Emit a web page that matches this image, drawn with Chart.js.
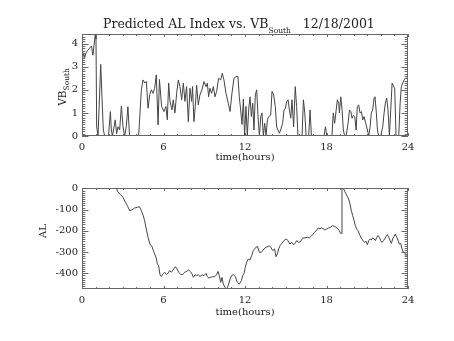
<!DOCTYPE html>
<html>
<head>
<meta charset="utf-8">
<script src="https://cdn.jsdelivr.net/npm/chart.js@4.4.1/dist/chart.umd.min.js"></script>
<style>
  body { margin: 0; background: #fff; width: 454px; height: 341px; position: relative; overflow: hidden; }
  .box { position: absolute; left: 0; width: 454px; }
  .lbl { position: absolute; font-family: "DejaVu Serif", serif; color: #222; white-space: pre; line-height: 1; }
  .sub { font-size: 7.5px; position: relative; top: 5px; }
  .rsub { font-size: 7.5px; position: relative; top: 3px; }
  .rot { transform: translate(-50%, -50%) rotate(-90deg); }
  .ctr { transform: translateX(-50%); }
</style>
</head>
<body>
<div class="box" style="top:0;height:170px"><canvas id="vbChart"></canvas></div>
<div class="box" style="top:170px;height:171px"><canvas id="alChart"></canvas></div>

<div class="lbl" style="left:103px;top:18px;font-size:12.5px">Predicted AL Index vs. VB<span class="sub">South</span>   12/18/2001</div>
<div class="lbl rot" style="left:62px;top:87px;font-size:10.5px">VB<span class="rsub">South</span></div>
<div class="lbl ctr" style="left:245px;top:152px;font-size:10px">time(hours)</div>
<div class="lbl rot" style="left:43px;top:231px;font-size:10px">AL</div>
<div class="lbl ctr" style="left:245px;top:307px;font-size:10px">time(hours)</div>

<script>
// VB south (top panel), hours / value
const vbHours = [
  0.00, 0.12, 0.20, 0.30, 0.40, 0.55, 0.70, 0.80, 0.98, 1.03, 1.08, 1.18, 1.38, 1.47, 1.57, 1.67,
  1.95, 2.09, 2.16, 2.24, 2.45, 2.55, 2.65, 2.77, 2.90, 3.02, 3.14, 3.26, 3.38, 3.50, 4.17, 4.37,
  4.49, 4.62, 4.74, 4.86, 4.99, 5.11, 5.23, 5.35, 5.47, 5.60, 5.70, 5.86, 6.03, 6.18, 6.28, 6.38,
  6.48, 6.62, 6.72, 6.84, 6.97, 7.09, 7.21, 7.34, 7.46, 7.58, 7.70, 7.83, 7.95, 8.07, 8.14, 8.24,
  8.34, 8.44, 8.56, 8.68, 8.83, 8.98, 9.13, 9.23, 9.32, 9.42, 9.54, 9.67, 9.79, 9.91, 10.06, 10.21,
  10.33, 10.45, 10.60, 10.77, 10.90, 11.04, 11.19, 11.34, 11.48, 11.58, 11.68, 11.78, 11.88, 11.97, 12.07, 12.17,
  12.27, 12.37, 12.47, 12.57, 12.66, 12.76, 12.86, 12.96, 13.06, 13.16, 13.25, 13.35, 13.45, 13.55, 13.65, 13.74,
  13.89, 13.99, 14.11, 14.23, 14.33, 14.43, 14.53, 14.62, 14.77, 14.87, 14.97, 15.07, 15.17, 15.27, 15.37, 15.46,
  15.58, 15.70, 15.80, 15.90, 16.20, 16.30, 16.40, 16.50, 16.69, 16.79, 16.89, 17.82, 17.92, 18.02, 18.40, 18.50,
  18.60, 18.70, 18.80, 18.90, 18.95, 19.05, 19.15, 19.24, 19.34, 19.44, 19.59, 19.69, 19.79, 19.88, 19.98, 20.08,
  20.18, 20.27, 20.37, 20.47, 20.57, 20.67, 20.76, 20.89, 21.01, 21.11, 21.21, 21.30, 21.40, 21.50, 21.57, 21.67,
  21.75, 21.84, 21.99, 22.14, 22.24, 22.33, 22.43, 22.53, 22.63, 22.73, 22.83, 22.92, 23.02, 23.12, 23.32, 23.42,
  23.51, 23.61, 23.71, 23.80, 23.90, 24.00
];
const vbSouth = [
  3.2, 3.6, 3.4, 3.6, 3.7, 3.8, 3.9, 3.5, 4.4, 4.2, 0.4, 0.0, 3.1, 1.7, 0.26, 0.0,
  0.0, 1.06, 0.26, 0.0, 0.7, 0.1, 0.4, 0.26, 1.3, 0.4, 0.0, 0.4, 1.27, 0.0, 0.0, 2.0,
  2.43, 2.3, 2.36, 1.2, 1.8, 2.0, 1.85, 2.07, 2.65, 0.48, 2.45, 1.28, 1.06, 1.28, 0.7, 2.3,
  1.5, 1.13, 1.57, 1.0, 1.86, 2.43, 2.14, 1.57, 2.29, 1.5, 2.14, 0.62, 2.07, 1.5, 2.14, 0.62,
  1.28, 2.2, 1.35, 1.78, 2.0, 2.36, 2.14, 2.29, 1.7, 2.07, 1.85, 2.14, 1.7, 1.93, 2.5, 2.43,
  2.72, 2.43, 1.85, 1.42, 1.06, 1.85, 2.5, 2.58, 2.58, 1.7, 1.13, 0.5, 1.6, 0.0, 1.28, 0.0,
  1.13, 1.7, 0.84, 1.42, 0.26, 1.78, 2.0, 0.84, 0.0, 0.84, 1.0, 0.0, 0.55, 0.0, 0.7, 0.84,
  0.9, 1.93, 1.78, 1.28, 0.4, 0.26, 0.12, 0.26, 0.55, 1.13, 1.2, 1.5, 1.57, 1.13, 0.77, 1.57,
  0.4, 2.14, 1.28, 0.0, 0.0, 1.57, 1.0, 0.0, 0.0, 1.13, 0.0, 0.0, 0.4, 0.0, 0.0, 1.0,
  0.55, 1.06, 1.57, 1.42, 1.0, 1.7, 1.13, 0.26, 0.0, 0.0, 0.55, 1.13, 1.06, 0.77, 0.9, 0.84,
  0.26, 1.28, 1.35, 1.0, 1.06, 0.7, 0.84, 0.55, 0.26, 0.0, 0.4, 1.0, 1.13, 1.64, 1.7, 1.0,
  0.26, 0.0, 0.0, 0.4, 1.0, 1.42, 1.64, 1.13, 0.0, 1.13, 2.29, 2.17, 2.07, 0.0, 0.0, 1.42,
  2.14, 2.29, 2.43, 2.5, 2.5, 2.55
];

// predicted AL (bottom panel)
const alHours = [
  0.00, 2.55, 2.65, 2.84, 3.02, 3.19, 3.34, 3.51, 3.68, 3.88, 4.07, 4.24, 4.37, 4.51, 4.61, 4.73,
  4.86, 5.00, 5.15, 5.30, 5.45, 5.55, 5.64, 5.74, 5.84, 5.96, 6.09, 6.21, 6.33, 6.45, 6.58, 6.75,
  6.87, 7.00, 7.12, 7.27, 7.41, 7.56, 7.71, 7.85, 8.00, 8.10, 8.20, 8.32, 8.44, 8.56, 8.69, 8.83,
  8.98, 9.13, 9.23, 9.32, 9.47, 9.62, 9.77, 9.91, 10.01, 10.11, 10.21, 10.31, 10.40, 10.53, 10.65, 10.77,
  10.90, 11.02, 11.14, 11.29, 11.43, 11.58, 11.73, 11.83, 11.93, 12.02, 12.12, 12.24, 12.37, 12.49, 12.61, 12.71,
  12.81, 12.93, 13.05, 13.20, 13.30, 13.40, 13.55, 13.69, 13.79, 13.89, 14.04, 14.18, 14.28, 14.38, 14.48, 14.58,
  14.72, 14.87, 15.02, 15.17, 15.31, 15.44, 15.56, 15.70, 15.80, 15.95, 16.10, 16.24, 16.42, 16.59, 16.74, 16.84,
  16.98, 17.13, 17.28, 17.40, 17.52, 17.65, 17.77, 17.89, 18.01, 18.16, 18.31, 18.45, 18.60, 18.70, 18.85, 18.94,
  19.04, 19.09, 19.14, 19.24, 19.34, 19.44, 19.53, 19.63, 19.73, 19.83, 19.93, 20.03, 20.12, 20.22, 20.32, 20.42,
  20.52, 20.61, 20.71, 20.81, 20.91, 21.01, 21.11, 21.21, 21.30, 21.40, 21.50, 21.60, 21.70, 21.79, 21.89, 21.99,
  22.09, 22.19, 22.29, 22.38, 22.48, 22.58, 22.68, 22.78, 22.87, 22.97, 23.07, 23.17, 23.27, 23.36, 23.46, 23.56,
  23.66, 23.75, 23.85, 23.95, 24.00
];
const alIndex = [
  0, 0, -18, -29, -42, -65, -81, -105, -101, -92, -89, -86, -105, -128, -152, -191,
  -230, -262, -274, -301, -325, -356, -364, -406, -415, -403, -395, -406, -400, -387, -395, -380,
  -369, -380, -395, -406, -406, -395, -391, -384, -393, -403, -419, -407, -411, -407, -415, -407,
  -411, -400, -415, -422, -419, -416, -416, -407, -391, -411, -443, -419, -451, -466, -474, -458,
  -427, -411, -406, -416, -443, -451, -435, -411, -400, -372, -348, -333, -337, -317, -293, -285,
  -277, -274, -301, -301, -293, -285, -277, -274, -270, -277, -293, -285, -322, -309, -285, -270,
  -259, -246, -238, -246, -262, -254, -265, -259, -246, -254, -250, -234, -233, -230, -233, -227,
  -218, -207, -196, -186, -191, -186, -191, -196, -191, -186, -183, -175, -180, -183, -191, -199,
  -212, -212, 0, 0, -13, -26, -38, -50, -73, -105, -128, -152, -175, -191, -199, -215,
  -230, -238, -249, -254, -249, -265, -246, -238, -243, -233, -238, -246, -230, -222, -230, -246,
  -254, -246, -238, -227, -218, -230, -246, -259, -238, -227, -215, -230, -246, -262, -259, -285,
  -301, -301, -317, -310, -318
];

const hourTicks = [0, 6, 12, 18, 24];
const vbTicks = [0, 1, 2, 3, 4];
const alTicks = [-400, -300, -200, -100, 0];
const vbRange = [0, 4.42];
const alRange = [-474, 2];

const tickFont = { family: 'DejaVu Serif', size: 10 };
const lineColor = '#444';
const frameColor = '#666';

// IDL style box with inward ticks on all four sides
const idlFrame = {
  id: 'idlFrame',
  afterDatasetsDraw(chart, args, opts) {
    const { ctx, chartArea: a, scales: { x, y } } = chart;
    ctx.save();
    ctx.strokeStyle = frameColor;
    ctx.lineWidth = 1;
    ctx.beginPath();
    ctx.rect(a.left + 0.5, a.top + 0.5, a.right - a.left - 1, a.bottom - a.top - 1);
    for (let h = 0; h <= 24; h++) {
      const px = Math.round(x.getPixelForValue(h)) + 0.5;
      const len = h % 6 === 0 ? 3 : 2;
      ctx.moveTo(px, a.bottom); ctx.lineTo(px, a.bottom - len);
      ctx.moveTo(px, a.top); ctx.lineTo(px, a.top + len);
    }
    const k0 = Math.ceil(y.min / opts.minor - 1e-6);
    const k1 = Math.floor(y.max / opts.minor + 1e-6);
    for (let k = k0; k <= k1; k++) {
      const v = k * opts.minor;
      const r = v / opts.major;
      const len = Math.abs(r - Math.round(r)) < 1e-6 ? 6.5 : 3.3;
      const py = Math.round(y.getPixelForValue(v)) + 0.5;
      ctx.moveTo(a.left, py); ctx.lineTo(a.left + len, py);
      ctx.moveTo(a.right, py); ctx.lineTo(a.right - len, py);
    }
    ctx.stroke();
    ctx.restore();
  }
};

function makeChart(id, hours, values, range, yTicks, major, minor, pad) {
  const points = hours.map((h, i) => ({ x: h, y: values[i] }));
  return new Chart(document.getElementById(id), {
    type: 'line',
    data: {
      datasets: [{
        data: points,
        borderColor: lineColor,
        borderWidth: 1,
        pointRadius: 0,
        tension: 0,
        fill: false
      }]
    },
    options: {
      responsive: true,
      maintainAspectRatio: false,
      devicePixelRatio: 1,
      animation: false,
      events: [],
      layout: { padding: pad },
      plugins: {
        legend: { display: false },
        tooltip: { enabled: false },
        idlFrame: { major: major, minor: minor }
      },
      scales: {
        x: {
          type: 'linear',
          min: hourTicks[0],
          max: hourTicks[hourTicks.length - 1],
          grid: { display: false, drawTicks: false },
          border: { display: false },
          ticks: { padding: 5, font: tickFont, color: '#222', maxRotation: 0, autoSkip: false },
          afterBuildTicks: s => { s.ticks = hourTicks.map(v => ({ value: v })); },
          afterFit: s => { s.height = 20; }
        },
        y: {
          min: range[0],
          max: range[1],
          grid: { display: false, drawTicks: false },
          border: { display: false },
          ticks: { padding: 4, font: tickFont, color: '#222', autoSkip: false },
          afterBuildTicks: s => { s.ticks = yTicks.map(v => ({ value: v })); },
          afterFit: s => { s.width = 52; }
        }
      }
    },
    plugins: [idlFrame]
  });
}

makeChart('vbChart', vbHours, vbSouth, vbRange, vbTicks, 1, 0.1, { left: 30, right: 46, top: 34, bottom: 14 });
makeChart('alChart', alHours, alIndex, alRange, alTicks, 100, 10, { left: 30, right: 46, top: 18, bottom: 32 });
</script>
</body>
</html>
